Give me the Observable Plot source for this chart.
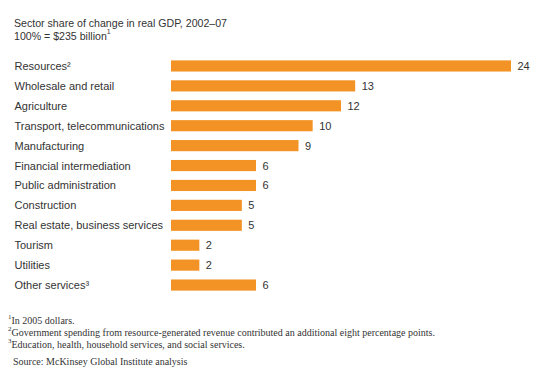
<!DOCTYPE html>
<html><head><meta charset="utf-8">
<script src="https://cdn.jsdelivr.net/npm/d3@7"></script>
<script src="https://cdn.jsdelivr.net/npm/@observablehq/plot@0.6"></script>
<style>
body{margin:0;background:#fff;width:545px;height:382px;overflow:hidden;font-family:"Liberation Sans",Arial,sans-serif;color:#333}
#title{position:absolute;left:14px;top:17px;font-size:10.6px;line-height:13px}
#chart{position:absolute;left:0;top:52px}
#notes{position:absolute;left:8px;top:315px;font-family:"Liberation Serif","DejaVu Serif",serif;font-size:10px;line-height:12px;color:#333}
sup{font-size:7px;vertical-align:top;line-height:0;position:relative;top:2px}
</style></head><body>
<div id="title">Sector share of change in real GDP, 2002–07<br>100% = $235 billion<sup>1</sup></div>
<div id="chart"></div>
<div id="notes">
<div><sup>1</sup>In 2005 dollars.</div>
<div><sup>2</sup>Government spending from resource-generated revenue contributed an additional eight percentage points.</div>
<div><sup>3</sup>Education, health, household services, and social services.</div>
<div style="margin-left:5px;margin-top:5px">Source: McKinsey Global Institute analysis</div>
</div>
<script>
const sectors = ["Resources²","Wholesale and retail","Agriculture","Transport, telecommunications","Manufacturing","Financial intermediation","Public administration","Construction","Real estate, business services","Tourism","Utilities","Other services³"];
const shares = [24,13,12,10,9,6,6,5,5,2,2,6];
const data = sectors.map((s,i)=>({sector:s, value:shares[i]}));
const plot = Plot.plot({
  width:545, height:250,
  marginLeft:171, marginRight:34, marginTop:4, marginBottom:7,
  x:{domain:[0,24], axis:null},
  y:{domain:sectors, axis:null, paddingInner:0.44, paddingOuter:0.22, round:false},
  style:{fontFamily:"'Liberation Sans',Arial,sans-serif", fontSize:"11px", color:"#333"},
  marks:[
    Plot.barX(data,{x:"value", y:"sector", fill:"#f39325"}),
    Plot.text(data,{x:"value", y:"sector", text:d=>String(d.value), textAnchor:"start", dx:6, fill:"#333", fontSize:11}),
    Plot.text(data,{y:"sector", text:"sector", frameAnchor:"left", textAnchor:"start", dx:-157, fill:"#333", fontSize:11})
  ]
});
document.getElementById("chart").appendChild(plot);
</script>
</body></html>
